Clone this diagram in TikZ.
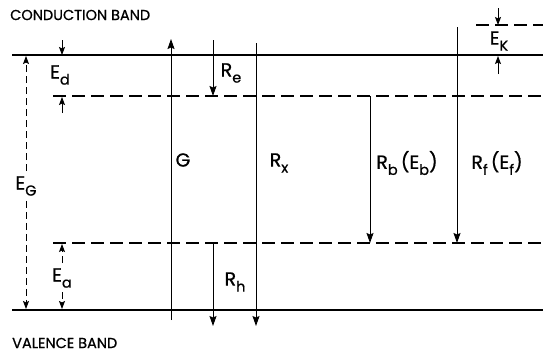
\documentclass[tikz,border=0pt]{standalone}
\usepackage{fontspec}
\setmainfont{Poppins}
\newfontfamily\labfont{Poppins}[FakeBold=0.8]
\usetikzlibrary{arrows.meta}
\newcommand{\lsub}[2]{#1\raisebox{-0.32em}{\fontsize{14.5}{14.5}\selectfont #2}}
\begin{document}
\begin{tikzpicture}[x=1pt,y=-1pt,
  band/.style={line width=1.8pt},
  lvl/.style={line width=1.3pt, dash pattern=on 13pt off 6pt},
  trans/.style={line width=1pt,-{Stealth[length=10pt,width=7pt,inset=1.5pt]}},
  measarrow/.style={line width=0.9pt,-{Stealth[length=8pt,width=6pt,inset=1.5pt]}},
  dmeasarrow/.style={measarrow, dash pattern=on 7pt off 4pt},
  lab/.style={font=\labfont\fontsize{19}{19}\selectfont, inner sep=0pt},
  title/.style={font=\labfont\fontsize{14.5}{14.5}\selectfont, anchor=west, inner sep=0pt}]
\useasboundingbox (0,0) rectangle (543,354);

% titles
\node[title] (cb) at (10,15) {CONDUCTION BAND};
\node[title] (vb) at (12,343) {VALENCE BAND};

% band edges and levels
\coordinate (cbL) at (12,55);  \coordinate (cbR) at (543,55);
\coordinate (vbL) at (12,310); \coordinate (vbR) at (543,310);
\coordinate (dL) at (53,96);   \coordinate (dR) at (543,96);
\coordinate (aL) at (53,243);  \coordinate (aR) at (543,243);
\coordinate (kL) at (476,25);  \coordinate (kR) at (543,25);
\draw[band] (cbL) -- (cbR);
\draw[band] (vbL) -- (vbR);
\draw[lvl] (dL) -- (dR);
\draw[lvl] (aL) -- (aR);
\draw[lvl] (kL) -- (kR);

% E_G
\node[lab, inner sep=5pt] (EG) at (26,186) {\lsub{E}{G}};
\coordinate (egT) at (26,56); \coordinate (egB) at (26,309);
\draw[dmeasarrow] (EG.north) -- (egT);
\draw[dmeasarrow] (EG.south) -- (egB);

% E_d
\node[lab] (Ed) at (60,75) {\lsub{E}{d}};
\coordinate (ed1s) at (62,40); \coordinate (ed1e) at (62,55);
\coordinate (ed2s) at (62,113); \coordinate (ed2e) at (62,97);
\draw[measarrow] (ed1s) -- (ed1e);
\draw[measarrow] (ed2s) -- (ed2e);

% E_a
\node[lab] (Ea) at (62,278) {\lsub{E}{a}};
\coordinate (ea1s) at (62,263); \coordinate (ea1e) at (62,244);
\coordinate (ea2s) at (62,292); \coordinate (ea2e) at (62,309);
\draw[dmeasarrow] (ea1s) -- (ea1e);
\draw[dmeasarrow] (ea2s) -- (ea2e);

% E_K
\node[lab] (EK) at (499,41) {\lsub{E}{K}};
\coordinate (ek1s) at (498,8); \coordinate (ek1e) at (498,25);
\coordinate (ek2s) at (498,74); \coordinate (ek2e) at (498,56);
\draw[measarrow] (ek1s) -- (ek1e);
\draw[measarrow] (ek2s) -- (ek2e);

% G
\coordinate (gB) at (171,320); \coordinate (gT) at (171,39);
\draw[trans] (gB) -- (gT);
\node[lab] (G) at (183,160) {G};

% R_e
\coordinate (reT) at (213,40); \coordinate (reB) at (213,96);
\draw[trans] (reT) -- (reB);
\node[lab] (Re) at (231,73) {\lsub{R}{e}};

% R_x
\coordinate (rxT) at (256,43); \coordinate (rxB) at (256,326);
\draw[trans] (rxT) -- (rxB);
\node[lab] (Rx) at (279,163) {\lsub{R}{x}};

% R_h
\coordinate (rhT) at (213,243); \coordinate (rhB) at (213,326);
\draw[trans] (rhT) -- (rhB);
\node[lab] (Rh) at (235,282) {\lsub{R}{h}};

% R_b
\coordinate (rbT) at (370,96); \coordinate (rbB) at (370,243);
\draw[trans] (rbT) -- (rbB);
\node[lab] (Rb) at (407,163) {\lsub{R}{b}\,(\lsub{E}{b})};

% R_f
\coordinate (rfT) at (457,27); \coordinate (rfB) at (457,243);
\draw[trans] (rfT) -- (rfB);
\node[lab] (Rf) at (497,163) {\lsub{R}{f}\,(\lsub{E}{f})};
\end{tikzpicture}
\end{document}
